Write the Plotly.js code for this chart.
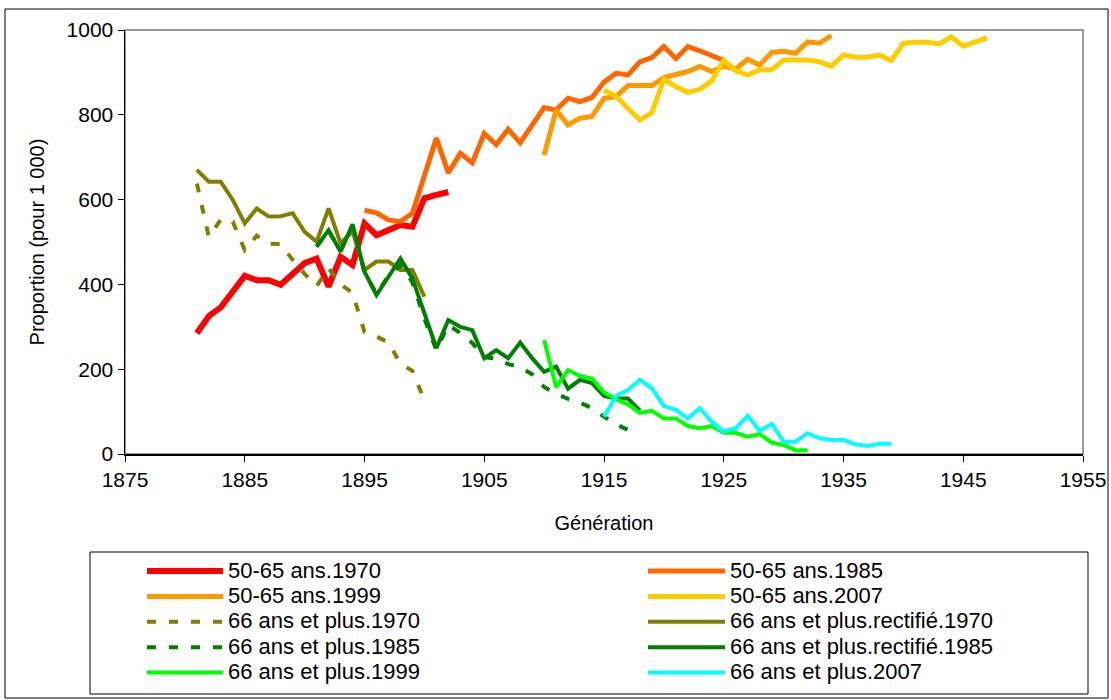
<!DOCTYPE html>
<html>
<head>
<meta charset="utf-8">
<script src="https://cdn.plot.ly/plotly-3.0.1.min.js"></script>
<style>html,body{margin:0;padding:0;background:#fff;}#chart{width:1111px;height:700px;}</style>
</head>
<body>
<div id="chart"></div>
<script>
// ---- Data ----
const seriesNames = [
  "50-65 ans.1970", "50-65 ans.1985", "50-65 ans.1999", "50-65 ans.2007",
  "66 ans et plus.1970", "66 ans et plus.rectifié.1970",
  "66 ans et plus.1985", "66 ans et plus.rectifié.1985",
  "66 ans et plus.1999", "66 ans et plus.2007"
];
const startYears = [1881, 1895, 1910, 1915, 1881, 1881, 1891, 1891, 1910, 1915];

const ans50_65_1970 = [285,325,346,383,420,410,410,399,426,450,461,395,465,446,544,516,528,540,536,603,611,618];
const ans50_65_1985 = [575,569,552,548,568,655,745,663,709,687,756,730,766,734,777,817,811,839,831,841,877,898,894,925,935,961,933,961,951,941,928];
const ans50_65_1999 = [705,811,776,792,796,839,843,869,869,869,888,896,902,914,902,915,908,931,917,947,950,945,972,969,987];
const ans50_65_2007 = [858,844,815,788,805,884,866,853,860,880,929,904,894,906,906,929,929,929,925,915,941,936,936,941,928,969,971,971,967,984,962,972,982];
const ans66_1970 = [638,512,553,548,481,515,496,495,458,425,396,438,400,380,288,277,263,213,196,127];
const ans66_rect_1970 = [670,642,642,599,544,579,560,561,568,524,501,579,497,525,434,454,454,434,434,371];
const ans66_1985 = [489,526,479,540,428,378,420,445,405,320,245,305,285,262,228,225,212,205,188,158,142,130,121,108,88,70,57];
const ans66_rect_1985 = [489,528,477,542,430,375,418,461,414,330,250,316,300,292,226,245,226,263,226,194,206,154,175,167,137,131,131,102];
const ans66_1999 = [269,158,198,184,178,145,129,117,97,102,84,84,66,61,66,50,50,41,47,27,21,9,9];
const ans66_2007 = [88,137,151,175,155,113,104,84,108,76,53,61,90,55,71,29,29,49,37,33,33,23,19,24,24];

const seriesValues = [ans50_65_1970, ans50_65_1985, ans50_65_1999, ans50_65_2007,
  ans66_1970, ans66_rect_1970, ans66_1985, ans66_rect_1985, ans66_1999, ans66_2007];

const xTickVals = [1875, 1885, 1895, 1905, 1915, 1925, 1935, 1945, 1955];
const yTickVals = [0, 200, 400, 600, 800, 1000];

// ---- Styles ----
const colors = ["#FF0000", "#FF6600", "#FF9900", "#FFCC00", "#808000", "#808000", "#008000", "#008000", "#00FF00", "#00FFFF"];
const widths = [6, 5, 5, 5, 4, 4, 4, 4, 4, 4];
const DASH = "9px,13px";
const dashes = ["solid", "solid", "solid", "solid", DASH, "solid", DASH, "solid", "solid", "solid"];

const FONT = "Liberation Sans, Arial, sans-serif";
const W = 1111, H = 700;
const M = {l: 125, r: 28, t: 30, b: 246};
const PW = W - M.l - M.r, PH = H - M.t - M.b;
const px = v => (v - M.l) / PW;       // pixel x -> paper
const py = v => (H - M.b - v) / PH;   // pixel y -> paper

const traces = seriesValues.map((vals, i) => ({
  type: "scatter",
  mode: "lines",
  name: seriesNames[i],
  x: vals.map((_, k) => startYears[i] + k),
  y: vals,
  line: {color: colors[i], width: widths[i], dash: dashes[i]},
  showlegend: false,
  hoverinfo: "x+y+name"
}));

// ---- Manual two-column legend built from the series list ----
const shapes = [
  {type: "rect", xref: "paper", yref: "paper", x0: 0, x1: 1, y0: 0, y1: 1,
   line: {color: "#9a9a9a", width: 2}, layer: "below"},
  {type: "rect", xref: "paper", yref: "paper", x0: px(5), x1: px(1108), y0: py(698), y1: py(9),
   line: {color: "#000", width: 1}},
  {type: "rect", xref: "paper", yref: "paper", x0: px(90), x1: px(1088), y0: py(694), y1: py(552),
   line: {color: "#000", width: 1}}
];
const annotations = [];
const colLineX = [[147, 223], [648, 725]];
const colTextX = [227, 729];
const row0 = 570, rowStep = 25.4;
seriesNames.forEach((name, i) => {
  const c = i % 2, r = Math.floor(i / 2);
  const yc = row0 + r * rowStep;
  shapes.push({type: "line", xref: "paper", yref: "paper",
    x0: px(colLineX[c][0]), x1: px(colLineX[c][1]), y0: py(yc + 1), y1: py(yc + 1),
    line: {color: colors[i], width: widths[i], dash: dashes[i]}});
  annotations.push({xref: "paper", yref: "paper", x: px(colTextX[c]), y: py(yc),
    xanchor: "left", yanchor: "middle", showarrow: false, text: name, borderpad: 0,
    font: {family: FONT, size: 22, color: "#000"}});
});

const layout = {
  width: W, height: H,
  margin: M,
  paper_bgcolor: "#fff", plot_bgcolor: "#fff",
  font: {family: FONT, color: "#000"},
  showlegend: false,
  xaxis: {
    range: [1875, 1955], tickmode: "array", tickvals: xTickVals,
    ticks: "outside", ticklen: 6, tickcolor: "#000", tickwidth: 1,
    showline: true, linecolor: "#000", linewidth: 1.5,
    showgrid: false, zeroline: false, automargin: false,
    tickfont: {family: FONT, size: 21, color: "#000"},
    title: {text: "Génération", font: {family: FONT, size: 20, color: "#000"}, standoff: 26}
  },
  yaxis: {
    range: [0, 1000], tickmode: "array", tickvals: yTickVals,
    ticks: "outside", ticklen: 6, tickcolor: "#000", tickwidth: 1,
    showline: true, linecolor: "#000", linewidth: 1.5,
    showgrid: false, zeroline: false, automargin: false,
    tickfont: {family: FONT, size: 21, color: "#000"},
    title: {text: "Proportion (pour 1 000)", font: {family: FONT, size: 20, color: "#000"}, standoff: 16}
  },
  shapes: shapes,
  annotations: annotations
};

Plotly.newPlot("chart", traces, layout, {displayModeBar: false, staticPlot: true});
</script>
</body>
</html>
